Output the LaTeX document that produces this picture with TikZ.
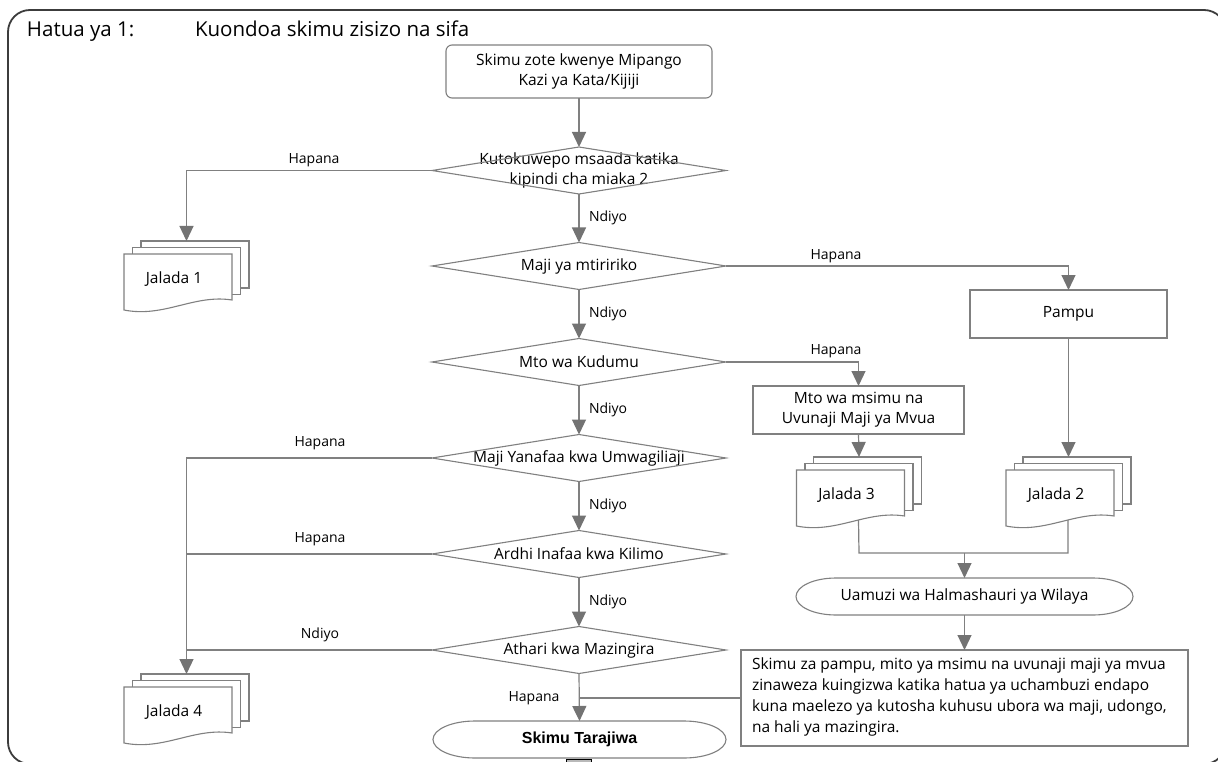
\documentclass[tikz,border=0pt]{standalone}
\usepackage{fontspec}
\setmainfont{Open Sans}
\newfontfamily\tarafont{Liberation Sans}
\usetikzlibrary{arrows.meta}
\definecolor{lg}{HTML}{808080}
\definecolor{ag}{HTML}{737373}
\definecolor{fr}{HTML}{3C3C3C}
\newcommand\txtnode{\fontsize{15.5}{20}\selectfont}
\newcommand\txtlab{\fontsize{14}{17}\selectfont}
\newcommand\txttitle{\fontsize{20.5}{24}\selectfont}
\newcommand\jalada[4]{%
  \draw[docline] (#2+17,#3-13) rectangle (#2+125,#3+34);
  \draw[docline] (#2+8.5,#3-6.5) rectangle (#2+116.5,#3+40.5);
  \draw[docline] (#2,#3) -- (#2+108,#3) -- (#2+108,#3+46) .. controls (#2+70,#3+40) and (#2+40,#3+64) .. (#2,#3+56) -- cycle;
  \node[jtext] (#1) at (#2+50,#3+25) {#4};
  \coordinate (#1top) at (#2+62.5,#3-13);
  \coordinate (#1bot) at (#2+62,#3+50);
}
\begin{document}
\begin{tikzpicture}[x=1pt,y=-1pt,
  every node/.style={inner sep=0pt, outer sep=0pt},
  conn/.style={draw=lg, line width=1.2pt},
  arr/.style={conn, -{Triangle[length=15pt,width=14pt,color=ag]}},
  shapeline/.style={draw=lg, line width=1.1pt},
  docline/.style={draw=lg, line width=1.1pt, fill=white},
  boxnode/.style={draw=lg, line width=1.1pt, align=center, font=\txtnode},
  dia/.style={minimum width=294pt, minimum height=47pt, align=center, font=\txtnode},
  term/.style={minimum height=37pt, align=center, font=\txtnode},
  jtext/.style={font=\txtnode},
  lab/.style={font=\txtlab},
  ttl/.style={font=\txttitle, anchor=base west}
]
\useasboundingbox (0,0) rectangle (1218,762);
\fill[white] (0,0) rectangle (1218,762);
% frame
\draw[fr, line width=1.8pt, rounded corners=22pt] (8,10) rectangle (1226,764);
\node[ttl] (t1) at (27,36.5) {Hatua ya 1:};
\node[ttl] (t2) at (195,36.5) {Kuondoa skimu zisizo na sifa};

% main column
\node[boxnode, rounded corners=6pt, minimum width=266pt, minimum height=53pt] (start) at (579,71.5) {Skimu zote kwenye Mipango\\Kazi ya Kata/Kijiji};
\node[dia] (d1) at (579,170.5) {Kutokuwepo msaada katika\\kipindi cha miaka 2};
\node[dia] (d2) at (579,266) {Maji ya mtiririko};
\node[dia] (d3) at (579,362) {Mto wa Kudumu};
\node[dia] (d4) at (579,458) {Maji Yanafaa kwa Umwagiliaji};
\node[dia] (d5) at (579,554) {Ardhi Inafaa kwa Kilimo};
\node[dia] (d6) at (579,650) {Athari kwa Mazingira};
\foreach \d in {d1,d2,d3,d4,d5,d6}{
  \draw[shapeline] (\d.north) -- (\d.east) -- (\d.south) -- (\d.west) -- cycle;
}
\node[term, minimum width=293pt, font=\tarafont\bfseries\fontsize{16}{19}\selectfont] (tara) at (579.5,739.5) {Skimu Tarajiwa};
\draw[shapeline] ([xshift=42pt]tara.north west) -- ([xshift=-42pt]tara.north east)
  arc[start angle=90,end angle=-90,x radius=42pt,y radius=18.5pt]
  -- ([xshift=42pt]tara.south west)
  arc[start angle=270,end angle=90,x radius=42pt,y radius=18.5pt] -- cycle;

% right column
\node[boxnode, minimum width=197pt, minimum height=48pt] (pampu) at (1068.5,314) {Pampu};
\node[boxnode, minimum width=211pt, minimum height=48pt] (mto) at (858.5,410) {Mto wa msimu na\\Uvunaji Maji ya Mvua};
\node[term, minimum width=337pt] (uam) at (964.5,596.5) {Uamuzi wa Halmashauri ya Wilaya};
\draw[shapeline] ([xshift=40pt]uam.north west) -- ([xshift=-40pt]uam.north east)
  arc[start angle=90,end angle=-90,x radius=40pt,y radius=18.5pt]
  -- ([xshift=40pt]uam.south west)
  arc[start angle=270,end angle=90,x radius=40pt,y radius=18.5pt] -- cycle;
\node[draw=lg, line width=1.1pt, minimum width=447pt, minimum height=96pt] (note) at (964.5,698) {};
\node[anchor=west, align=left, font=\fontsize{15.5}{21.3}\selectfont] (notetext) at (752,697) {Skimu za pampu, mito ya msimu na uvunaji maji ya mvua\\zinaweza kuingizwa katika hatua ya uchambuzi endapo\\kuna maelezo ya kutosha kuhusu ubora wa maji, udongo,\\na hali ya mazingira.};

% documents
\jalada{j1}{124}{254}{Jalada 1}
\jalada{j4}{124}{687}{Jalada 4}
\jalada{j3}{796.5}{470}{Jalada 3}
\jalada{j2}{1006}{470}{Jalada 2}

% connectors main column
\draw[arr] (start.south) -- (d1.north);
\draw[arr] (d1.south) -- (d2.north);
\draw[arr] (d2.south) -- (d3.north);
\draw[arr] (d3.south) -- (d4.north);
\draw[arr] (d4.south) -- (d5.north);
\draw[arr] (d5.south) -- (d6.north);
\draw[arr] (d6.south) -- (tara.north);
\node[lab, anchor=west] (n1) at (589,218) {Ndiyo};
\node[lab, anchor=west] (n2) at (589,314) {Ndiyo};
\node[lab, anchor=west] (n3) at (589,410) {Ndiyo};
\node[lab, anchor=west] (n4) at (589,506) {Ndiyo};
\node[lab, anchor=west] (n5) at (589,602) {Ndiyo};
\node[lab] (h6) at (534,698) {Hapana};

% left branches
\draw[arr] (d1.west) -| (j1top);
\node[lab] (h1) at (314,160) {Hapana};
\draw[arr] (d4.west) -| (j4top);
\node[lab] (h4) at (320,443) {Hapana};
\coordinate (c5) at (186.5,554);
\coordinate (c6) at (186.5,650);
\draw[conn] (d5.west) -- (c5);
\node[lab] (h5) at (320,539) {Hapana};
\draw[conn] (d6.west) -- (c6);
\node[lab] (n6) at (320,635) {Ndiyo};

% right branches
\draw[arr] (d2.east) -| (pampu.north);
\node[lab] (h2) at (836,256) {Hapana};
\draw[arr] (d3.east) -| (mto.north);
\node[lab] (h3) at (836,351) {Hapana};
\draw[arr] (pampu.south) -- (j2top);
\draw[arr] (mto.south) -- (j3top);
\coordinate (m3) at (859,553);
\coordinate (m2) at (1068,553);
\coordinate (mm) at (964.5,553);
\draw[conn] (j3bot) -- (m3) -- (m2) -- (j2bot);
\draw[arr] (mm) -- (uam.north);
\draw[arr] (uam.south) -- (note.north);
\coordinate (jn) at (579,698);
\draw[conn] (note.west) -- (jn);

% small square at the bottom edge
\draw[black, fill=gray!55, line width=0.8pt] (566,759) rectangle (591,770);
\end{tikzpicture}
\end{document}
